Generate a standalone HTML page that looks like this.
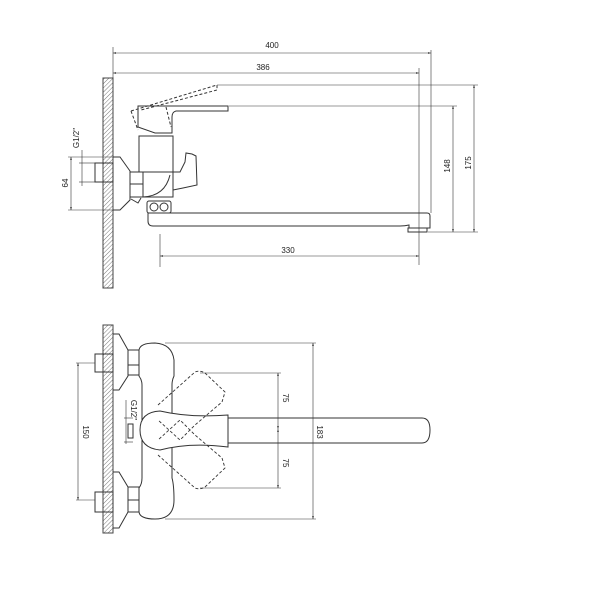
<!DOCTYPE html>
<html><head><meta charset="utf-8"><style>
html,body{margin:0;padding:0;background:#fff}
svg{display:block}
text{font-family:"Liberation Sans",sans-serif;font-size:8px;fill:#222}
</style></head><body>
<svg width="600" height="600" viewBox="0 0 600 600" xmlns="http://www.w3.org/2000/svg">
<defs>
<pattern id="h" width="3" height="3" patternUnits="userSpaceOnUse" patternTransform="rotate(45)">
<line x1="0" y1="0" x2="0" y2="3" stroke="#555" stroke-width="0.8"/></pattern>
<marker id="a" markerWidth="6" markerHeight="6" refX="5" refY="3" orient="auto-start-reverse"><path d="M0,1.5 L5,3 L0,4.5" fill="#333"/></marker>
</defs>
<g stroke="#333" fill="none" stroke-width="1">
<!-- walls -->
<rect x="103" y="78" width="10" height="210" fill="url(#h)" stroke="#444"/>
<rect x="103" y="325" width="10" height="208" fill="url(#h)" stroke="#444"/>

<!-- TOP VIEW -->
<g stroke-width="0.6">
<line x1="113" y1="47" x2="113" y2="78"/>
<line x1="431" y1="50" x2="431" y2="213"/>
<line x1="419" y1="68" x2="419" y2="265"/>
<line x1="113" y1="53" x2="431" y2="53" marker-start="url(#a)" marker-end="url(#a)"/>
<line x1="113" y1="73" x2="419" y2="73" marker-start="url(#a)" marker-end="url(#a)"/>
<line x1="217" y1="85" x2="478" y2="85"/>
<line x1="229" y1="106" x2="457" y2="106"/>
<line x1="428" y1="232" x2="478" y2="232"/>
<line x1="474" y1="85" x2="474" y2="232" marker-start="url(#a)" marker-end="url(#a)"/>
<line x1="453" y1="106" x2="453" y2="232" marker-start="url(#a)" marker-end="url(#a)"/>
<line x1="160" y1="234" x2="160" y2="267"/>
<line x1="160" y1="256" x2="419" y2="256" marker-start="url(#a)" marker-end="url(#a)"/>
<line x1="68" y1="157" x2="113" y2="157"/>
<line x1="68" y1="210" x2="113" y2="210"/>
<line x1="71" y1="157" x2="71" y2="210" marker-start="url(#a)" marker-end="url(#a)"/>
<line x1="79" y1="163" x2="95" y2="163"/>
<line x1="79" y1="182" x2="95" y2="182"/>
<line x1="82" y1="150" x2="82" y2="186"/>
</g>
<!-- nipple & flange -->
<rect x="95" y="163" width="18" height="19"/>
<path d="M113,157 L120,157 L130,171 L130,200 L120,210 L113,210"/>
<rect x="130" y="172" width="13" height="25"/>
<line x1="130" y1="184" x2="143" y2="184"/>
<path d="M131,199 L138,203 L141,198"/>
<path d="M143,172 L173,172 L173,197 L143,197 M143,197 Q165,196 170,175"/>
<rect x="139" y="136" width="34" height="36"/>
<path d="M173,172 L180,172 L185,162 L186,153 L192,154 L196,156 L197,185 L183,188 L173,190"/>
<!-- lever solid -->
<path d="M138,106 L228,106 L228,111 L176,111 Q172,112 172,117 L172,133 L155,133 L138,127 Z"/>
<!-- lever dashed -->
<g stroke-dasharray="3,2">
<path d="M131,111 L217,85 L217,90 L141,110"/>
<path d="M131,111 L138,130"/>
<path d="M166,107 L171,127"/>
</g>
<!-- aerator -->
<rect x="147" y="201" width="24" height="12" rx="2"/>
<circle cx="154" cy="207" r="4"/><circle cx="164" cy="207" r="4"/>
<!-- spout -->
<path d="M148,213 L427,213 Q430,213 430,216 L430,228 L409,228 L409,225 Q405,226 400,226 L153,226 Q148,226 148,221 Z"/>
<rect x="408" y="228" width="19" height="4"/>

<!-- BOTTOM VIEW -->
<g stroke-width="0.6">
<line x1="165" y1="343" x2="316" y2="343"/>
<line x1="165" y1="519" x2="316" y2="519"/>
<line x1="313" y1="343" x2="313" y2="519" marker-start="url(#a)" marker-end="url(#a)"/>
<line x1="200" y1="373" x2="281" y2="373"/>
<line x1="200" y1="488" x2="281" y2="488"/>
<line x1="278" y1="373" x2="278" y2="429" marker-start="url(#a)" marker-end="url(#a)"/>
<line x1="278" y1="429" x2="278" y2="488" marker-start="url(#a)" marker-end="url(#a)"/>
<line x1="76" y1="363" x2="95" y2="363"/>
<line x1="76" y1="500" x2="95" y2="500"/>
<line x1="78" y1="363" x2="78" y2="500" marker-start="url(#a)" marker-end="url(#a)"/>
<line x1="124" y1="418" x2="133" y2="418"/>
<line x1="124" y1="442" x2="133" y2="442"/>
<line x1="126" y1="400" x2="126" y2="444"/>
</g>
<rect x="95" y="354" width="18" height="18"/>
<rect x="95" y="492" width="18" height="20"/>
<path d="M113,334 L119,334 L128,350 L128,376 L119,390 L113,390"/>
<path d="M113,472 L119,472 L128,487 L128,512 L119,528 L113,528"/>
<rect x="128" y="350" width="11" height="25"/><line x1="128" y1="365" x2="139" y2="365"/>
<rect x="128" y="487" width="11" height="25"/><line x1="128" y1="500" x2="139" y2="500"/>
<path d="M139,350 Q140,343 155,343 Q172,344 174,360 L174,376 Q172,380 172,385 L172,478 Q174,485 174,500 Q174,519 155,519 Q140,519 139,512 L139,488 Q142,484 142,478 L142,385 Q142,380 139,376 Z"/>
<rect x="128" y="424" width="5" height="14"/>
<!-- handle -->
<path d="M160,411 Q190,418 228,415 L228,447 Q190,442 160,450 Q140,448 140,430 Q140,412 160,411 Z" fill="#fff"/>
<path d="M228,418 L422,418 Q430,418 430,430 Q430,443 422,443 L228,443"/>
<!-- dashed lever positions -->
<g stroke-dasharray="3,2" stroke-width="0.9">
<path d="M158,405 L195,372 Q200,370 205,373 L225,392 L222,402 L195,425 L180,440 L158,420"/>
<path d="M158,455 L195,488 Q200,490 205,487 L225,468 L222,458 L195,435 L180,420 L158,440"/>
</g>
</g>
<text x="272" y="48" text-anchor="middle">400</text>
<text x="263" y="70" text-anchor="middle">386</text>
<text x="288" y="253" text-anchor="middle">330</text>
<text transform="translate(450,166) rotate(-90)" text-anchor="middle">148</text>
<text transform="translate(471,163) rotate(-90)" text-anchor="middle">175</text>
<text transform="translate(68,183) rotate(-90)" text-anchor="middle">64</text>
<text transform="translate(79,138) rotate(-90)" text-anchor="middle">G1/2"</text>
<text transform="translate(83,432) rotate(90)" text-anchor="middle">150</text>
<text transform="translate(283,398) rotate(90)" text-anchor="middle">75</text>
<text transform="translate(283,463) rotate(90)" text-anchor="middle">75</text>
<text transform="translate(317,432) rotate(90)" text-anchor="middle">183</text>
<text transform="translate(131,410) rotate(90)" text-anchor="middle">G1/2"</text>
</svg>
</body></html>
